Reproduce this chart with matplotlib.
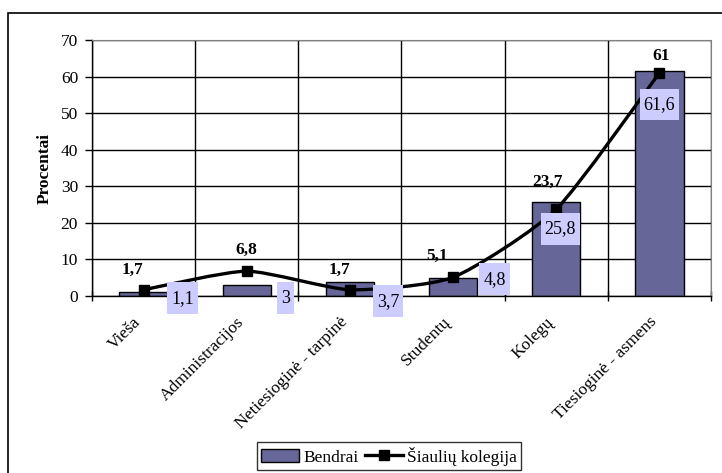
import matplotlib
matplotlib.use("Agg")
import matplotlib.pyplot as plt
import numpy as np
from matplotlib.path import Path
from matplotlib.patches import PathPatch, Rectangle
from matplotlib.lines import Line2D

categories = ["Vieša", "Administracijos", "Netiesioginė - tarpinė",
              "Studentų", "Kolegų", "Tiesioginė - asmens"]
bendrai = [1.1, 3, 3.7, 4.8, 25.8, 61.6]
kolegija = [1.7, 6.8, 1.7, 5.1, 23.7, 61]
bendrai_txt = ["1,1", "3", "3,7", "4,8", "25,8", "61,6"]
kolegija_txt = ["1,7", "6,8", "1,7", "5,1", "23,7", "61"]

BAR = "#666699"
BOX = "#ccccff"

plt.rcParams["font.family"] = ["Liberation Serif", "DejaVu Serif"]

fig = plt.figure(figsize=(7.22, 4.73), dpi=100)
# outer frame of the chart object
fig.patches.append(Rectangle((8 / 722, -0.1), 1.2, (473 - 13) / 473 + 0.1,
                             transform=fig.transFigure, fill=False,
                             edgecolor="black", lw=1.2))

ax = fig.add_axes([92 / 722, (473 - 296) / 473, (711 - 92) / 722, (296 - 40) / 473])
x = np.arange(len(categories))

ax.bar(x, bendrai, width=0.47, color=BAR, edgecolor="black", lw=1.0, zorder=2)


def smooth_path(xs, ys, t=0.1):
    # lightly smoothed cubic segments through the points
    pts = np.column_stack([xs, ys]).astype(float)
    verts = [pts[0]]
    codes = [Path.MOVETO]
    n = len(pts)
    for i in range(n - 1):
        p0 = pts[max(i - 1, 0)]
        p1 = pts[i]
        p2 = pts[i + 1]
        p3 = pts[min(i + 2, n - 1)]
        c1 = p1 + (p2 - p0) * t
        c2 = p2 - (p3 - p1) * t
        verts += [c1, c2, p2]
        codes += [Path.CURVE4] * 3
    return Path(verts, codes)


def tall_box(x0, y0, width, height, mutation_size):
    # label box with more room above and below than at the sides
    px = 0.22 * mutation_size
    py = 0.40 * mutation_size
    return Path([(x0 - px, y0 - py), (x0 + width + px, y0 - py),
                 (x0 + width + px, y0 + height + py), (x0 - px, y0 + height + py),
                 (x0 - px, y0 - py)], closed=True)


ax.add_patch(PathPatch(smooth_path(x, kolegija), fill=False, lw=2.4,
                       edgecolor="black", zorder=3))
ax.plot(x, kolegija, ls="none", marker="s", ms=7, color="black", zorder=4)

# line value labels (bold, above the markers), offsets in pixels
line_dx = [-11, 0, -11, -16, -9, 2]
line_dy = [20, 21, 20, 21, 27, 17]
for xi, v, s, dx, dy in zip(x, kolegija, kolegija_txt, line_dx, line_dy):
    ax.annotate(s, (xi, v), xytext=(dx * 0.72, dy * 0.72), textcoords="offset points",
                ha="center", va="center", fontsize=12.5, fontweight="bold",
                zorder=6)

# bar value labels in shaded boxes
bar_pos = [(0.38, -0.6), (0.38, -0.6), (0.37, -1.4), (0.4, 4.6), (0.04, 18.3), (0.0, 52.3)]
for xi, s, (dx, yy) in zip(x, bendrai_txt, bar_pos):
    ax.text(xi + dx, yy, s, ha="center", va="center", fontsize=13, zorder=5,
            bbox=dict(boxstyle=tall_box, fc=BOX, ec="none"))

ax.set_xlim(-0.5, len(categories) - 0.5)
ax.set_ylim(0, 70)
ax.set_yticks(np.arange(0, 71, 10))
ax.set_xticks(np.arange(len(categories) + 1) - 0.5, minor=False)
ax.set_xticklabels([])
ax.set_xticks(x - 0.05, minor=True)
ax.set_xticklabels(categories, minor=True, rotation=45, ha="right", va="center",
                   rotation_mode="anchor", fontsize=12.5)
ax.tick_params(axis="x", which="minor", length=0, pad=17)
ax.tick_params(axis="x", which="major", direction="inout", length=7, width=1)
ax.tick_params(axis="y", direction="out", length=5, width=1, labelsize=12.5, pad=5)

ax.grid(True, which="major", color="black", lw=1.0, zorder=0)
ax.set_axisbelow(True)
for side in ["top", "right"]:
    ax.spines[side].set_color("#808080")
for side in ["left", "bottom"]:
    ax.spines[side].set_color("black")
    ax.spines[side].set_linewidth(1.0)

ax.set_ylabel("Procentai", fontsize=12.5, fontweight="bold", labelpad=6)

handles = [Rectangle((0, 0), 1, 1, fc=BAR, ec="black"),
           Line2D([], [], color="black", lw=2.4, marker="s", ms=7)]
fig.legend(handles, ["Bendrai", "Šiaulių kolegija"], loc="center",
           bbox_to_anchor=(389 / 722, (473 - 456) / 473), ncol=2,
           fontsize=12.5, frameon=True, fancybox=False, edgecolor="black",
           handlelength=2.2, handletextpad=0.2, columnspacing=0.4,
           borderpad=0.25, borderaxespad=0)

fig.savefig("out.png", dpi=100)
